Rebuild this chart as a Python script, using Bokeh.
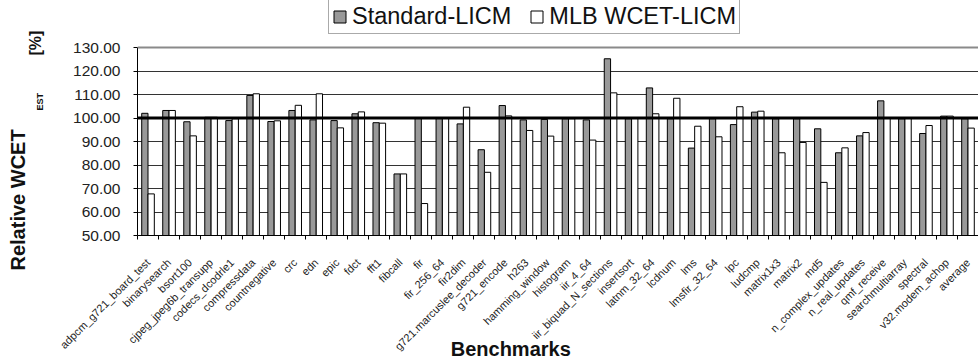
import math
from bokeh.plotting import figure
from bokeh.models import (ColumnDataSource, Range1d, FixedTicker, PrintfTickFormatter,
                          Span, Label, Legend, LegendItem)
from bokeh.transform import dodge
from bokeh.embed import file_html
from bokeh.resources import INLINE

benchmarks = ["adpcm_g721_board_test", "binarysearch", "bsort100", "cjpeg_jpeg6b_transupp",
              "codecs_dcodrle1", "compressdata", "countnegative", "crc", "edn", "epic", "fdct",
              "fft1", "fibcall", "fir", "fir_256_64", "fir2dim", "g721.marcuslee_decoder",
              "g721_encode", "h263", "hamming_window", "histogram", "iir_4_64",
              "iir_biquad_N_sections", "insertsort", "latnm_32_64", "lcdnum", "lms",
              "lmsfir_32_64", "lpc", "ludcmp", "matrix1x3", "matrix2", "md5",
              "n_complex_updates", "n_real_updates", "qmf_receive", "searchmultiarray",
              "spectral", "v32.modem_achop", "average"]

standard_licm = [102.0, 103.2, 98.4, 100.3, 98.9, 109.6, 98.5, 103.2, 99.2, 98.9,
                 101.8, 98.0, 76.2, 100.1, 100.0, 97.5, 86.5, 105.3, 99.2, 99.4,
                 99.7, 99.2, 125.2, 99.7, 112.8, 99.7, 87.2, 99.7, 97.2, 102.5,
                 99.7, 99.7, 95.4, 85.2, 92.4, 107.3, 99.7, 93.4, 100.8, 99.7]

mlb_wcet_licm = [67.7, 103.2, 92.4, 100.3, 99.7, 110.3, 98.8, 105.4, 110.3, 95.8,
                 102.6, 97.8, 76.2, 63.6, 100.0, 104.6, 76.9, 100.9, 94.7, 92.3,
                 99.7, 90.6, 110.7, 100.0, 101.8, 108.4, 96.5, 92.0, 104.8, 102.9,
                 85.2, 89.6, 72.6, 87.3, 93.8, 100.0, 100.0, 96.8, 100.8, 95.7]

y_ticks = [50, 60, 70, 80, 90, 100, 110, 120, 130]
baseline_value = 100
series_names = ["Standard-LICM", "MLB WCET-LICM"]

FONT = "Liberation Sans"

n = len(benchmarks)
source = ColumnDataSource(dict(idx=list(range(n)), name=benchmarks,
                               std=standard_licm, mlb=mlb_wcet_licm))

# frame spans from canvas top to the x axis; the extra room above 130 holds the legend
y_top = y_ticks[-1] + 20

p = figure(width=978, height=362,
           x_range=Range1d(-0.5, n - 0.5), y_range=Range1d(y_ticks[0], y_top),
           output_backend="svg", toolbar_location=None,
           min_border_left=137, min_border_right=0, min_border_top=0, min_border_bottom=127)
p.outline_line_color = None
p.background_fill_color = "white"

r1 = p.vbar(x=dodge("idx", -0.15, range=p.x_range), top="std", bottom=y_ticks[0], width=0.3,
            source=source, fill_color="#999999", line_color="black", line_width=1)
r2 = p.vbar(x=dodge("idx", 0.15, range=p.x_range), top="mlb", bottom=y_ticks[0], width=0.3,
            source=source, fill_color="white", line_color="black", line_width=1)

# x axis (its title is shifted left of centre with trailing no-break spaces)
xa = p.xaxis[0]
xa.ticker = FixedTicker(ticks=list(range(n)), minor_ticks=[i - 0.5 for i in range(n + 1)])
xa.major_label_overrides = {i: b for i, b in enumerate(benchmarks)}
xa.major_label_orientation = math.pi / 4
xa.major_label_text_font = FONT
xa.major_label_text_font_size = "11px"
xa.major_label_text_color = "#222222"
xa.major_label_standoff = 21
xa.major_tick_line_color = None
xa.major_tick_out = 0
xa.major_tick_in = 0
xa.minor_tick_line_color = "black"
xa.minor_tick_out = 4
xa.minor_tick_in = 0
xa.axis_line_color = "black"
xa.axis_label = "Benchmarks" + "\u00a0" * 17
xa.axis_label_text_font = FONT
xa.axis_label_text_font_size = "20px"
xa.axis_label_text_font_style = "bold"
xa.axis_label_text_color = "#111111"
xa.axis_label_standoff = -22

ya = p.yaxis[0]
ya.ticker = FixedTicker(ticks=y_ticks)
ya.bounds = (y_ticks[0], y_ticks[-1])
ya.formatter = PrintfTickFormatter(format="%.2f")
ya.major_label_text_font = FONT
ya.major_label_text_font_size = "15.5px"
ya.major_label_text_color = "#222222"
ya.major_label_standoff = 13
ya.major_tick_out = 4
ya.major_tick_in = 0
ya.minor_tick_line_color = None
ya.axis_line_color = "black"

p.xgrid.visible = False
p.ygrid.ticker = FixedTicker(ticks=y_ticks[1:-1])
p.ygrid.grid_line_color = "#333333"
p.ygrid.grid_line_width = 1

p.add_layout(Span(location=y_ticks[-1], dimension="width", line_color="#8a8a8a", line_width=2))
p.add_layout(Span(location=baseline_value, dimension="width", line_color="black", line_width=3))

legend = Legend(items=[LegendItem(label=series_names[0], renderers=[r1]),
                       LegendItem(label=series_names[1], renderers=[r2])],
                location=(191, 201), orientation="horizontal",
                label_text_font=FONT, label_text_font_size="23.5px", label_text_color="#111111",
                glyph_width=15, glyph_height=15, label_standoff=5, spacing=18,
                padding=3, margin=0, border_line_color="#555555", border_line_width=1,
                background_fill_color="white", background_fill_alpha=1.0)
p.add_layout(legend)

# y axis title pieces as labels in the left side panel (innermost first)
p.add_layout(Label(x=-10, y=180, x_units="screen", y_units="screen", angle=math.pi / 2,
                   text="[%]", text_font=FONT, text_font_size="16px", text_font_style="bold",
                   text_color="#111111", text_align="left", text_baseline="bottom"), "left")
p.add_layout(Label(x=1, y=125, x_units="screen", y_units="screen", angle=math.pi / 2,
                   text="EST", text_font=FONT, text_font_size="9px", text_font_style="bold",
                   text_color="#111111", text_align="left", text_baseline="bottom"), "left")
p.add_layout(Label(x=7, y=-35, x_units="screen", y_units="screen", angle=math.pi / 2,
                   text="Relative WCET", text_font=FONT, text_font_size="20px",
                   text_font_style="bold", text_color="#111111", text_align="left",
                   text_baseline="bottom"), "left")

open("out.html", "w").write(file_html(p, INLINE))
